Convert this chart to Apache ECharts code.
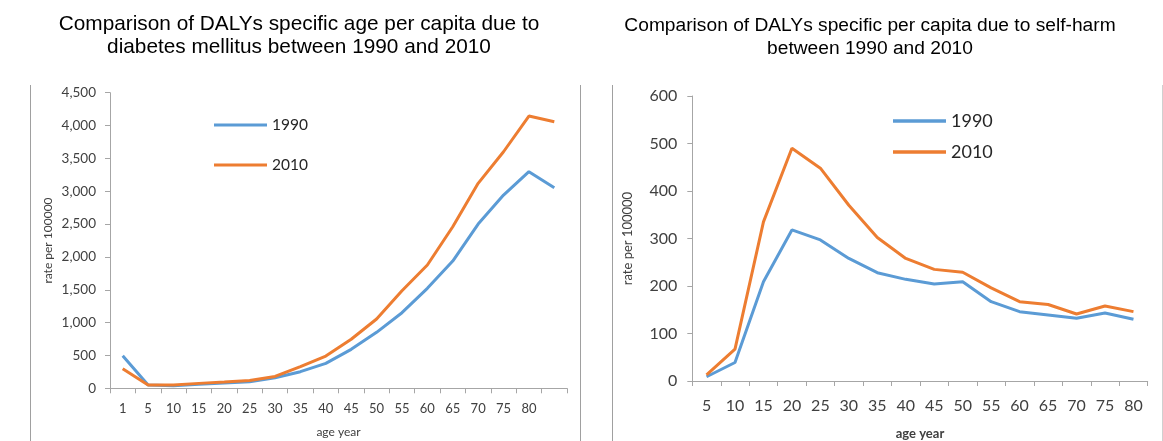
<!DOCTYPE html>
<html>
<head>
<meta charset="utf-8">
<script src="https://cdn.jsdelivr.net/npm/echarts@6/dist/echarts.min.js"></script>
<style>
  html, body { margin: 0; padding: 0; background: #fff; }
  #chart { width: 1163px; height: 441px; }
</style>
</head>
<body>
<div id="chart"></div>
<script>
// diabetes mellitus, rate per 100000 (last category has no label)
const diabetesAges = ['1', '5', '10', '15', '20', '25', '30', '35', '40', '45', '50', '55', '60', '65', '70', '75', '80', '']
const diabetes1990 = [495, 50, 40, 60, 80, 100, 160, 253, 380, 593, 852, 1151, 1522, 1937, 2500, 2942, 3297, 3053]
const diabetes2010 = [299, 50, 50, 75, 95, 120, 180, 330, 490, 746, 1055, 1486, 1877, 2460, 3120, 3601, 4144, 4058]

// self-harm, rate per 100000
const selfHarmAges = ['5', '10', '15', '20', '25', '30', '35', '40', '45', '50', '55', '60', '65', '70', '75', '80']
const selfHarm1990 = [9, 39, 209, 318, 297, 258, 228, 214, 204, 209, 167, 146, 139, 132, 143, 130]
const selfHarm2010 = [13, 67, 335, 490, 448, 370, 302, 258, 235, 229, 196, 167, 161, 141, 158, 146]

const blue = '#5B9BD5'
const orange = '#ED7D31'
const axisGrey = '#A6A6A6'
const textGrey = '#404040'
const labelFont = 'Lato'

const chart = echarts.init(document.getElementById('chart'))

function lineSeries(name, data, color, idx) {
  return {
    name: name,
    type: 'line',
    data: data,
    xAxisIndex: idx,
    yAxisIndex: idx,
    symbol: 'none',
    color: color,
    lineStyle: { width: 3, color: color },
    animation: false
  }
}

function catAxis(data, idx, fontSize, margin, nameGap, nameStyle) {
  return {
    type: 'category',
    gridIndex: idx,
    data: data,
    boundaryGap: true,
    axisLine: { lineStyle: { color: axisGrey } },
    axisTick: { show: true, length: 5, lineStyle: { color: axisGrey } },
    axisLabel: { interval: 0, color: textGrey, fontFamily: labelFont, fontSize: fontSize, margin: margin },
    name: 'age year',
    nameLocation: 'middle',
    nameGap: nameGap,
    nameTextStyle: nameStyle
  }
}

function valAxis(idx, max, interval, fontSize, margin, nameGap, nameSize, fmt) {
  return {
    type: 'value',
    gridIndex: idx,
    min: 0,
    max: max,
    interval: interval,
    splitLine: { show: false },
    axisLine: { show: true, lineStyle: { color: axisGrey } },
    axisTick: { show: true, length: 5, lineStyle: { color: axisGrey } },
    axisLabel: { color: textGrey, fontFamily: labelFont, fontSize: fontSize, margin: margin, formatter: fmt },
    name: 'rate per 100000',
    nameLocation: 'middle',
    nameGap: nameGap,
    nameTextStyle: { color: textGrey, fontFamily: labelFont, fontSize: nameSize }
  }
}

const option = {
  backgroundColor: '#fff',
  animation: false,
  title: [
    {
      text: 'Comparison of DALYs specific age per capita due to\ndiabetes mellitus between 1990 and 2010',
      left: 294, top: 8, textAlign: 'center',
      textStyle: { fontFamily: 'Liberation Sans', fontWeight: 'normal', fontSize: 20.8, color: '#000', lineHeight: 23 }
    },
    {
      text: 'Comparison of DALYs specific per capita due to self-harm\nbetween 1990 and 2010',
      left: 865, top: 9, textAlign: 'center',
      textStyle: { fontFamily: 'Liberation Sans', fontWeight: 'normal', fontSize: 19.2, color: '#000', lineHeight: 23 }
    }
  ],
  legend: [
    {
      orient: 'vertical', left: 209, top: 112,
      icon: 'rect', itemWidth: 53, itemHeight: 3, itemGap: 24, itemTextGap: 5,
      data: ['1990', '2010'],
      textStyle: { fontFamily: labelFont, fontSize: 15.5, lineHeight: 16, color: '#262626' }
    },
    {
      orient: 'vertical', left: 888, top: 106,
      icon: 'rect', itemWidth: 53, itemHeight: 3.5, itemGap: 11, itemTextGap: 5,
      data: ['1990', '2010'],
      textStyle: { fontFamily: labelFont, fontSize: 18, lineHeight: 20, color: '#262626' }
    }
  ],
  grid: [
    { left: 110, top: 92.7, width: 457, height: 295.6, outerBoundsMode: 'none' },
    { left: 692.3, top: 96, width: 455.4, height: 285, outerBoundsMode: 'none' }
  ],
  xAxis: [
    catAxis(diabetesAges, 0, 13, 14, 38, { color: textGrey, fontFamily: labelFont, fontSize: 12 }),
    catAxis(selfHarmAges, 1, 16, 17, 46, { color: textGrey, fontFamily: labelFont, fontSize: 13, fontWeight: 'bold' })
  ],
  yAxis: [
    valAxis(0, 4500, 500, 13.5, 14, 56, 12, v => v.toLocaleString('en-US')),
    valAxis(1, 600, 100, 16, 15, 58, 13, v => v)
  ],
  series: [
    lineSeries('1990', diabetes1990, blue, 0),
    lineSeries('2010', diabetes2010, orange, 0),
    lineSeries('1990', selfHarm1990, blue, 1),
    lineSeries('2010', selfHarm2010, orange, 1)
  ],
  graphic: [
    { type: 'line', shape: { x1: 30.5, y1: 85, x2: 30.5, y2: 441 }, style: { stroke: '#A0A0A0', lineWidth: 1 } },
    { type: 'line', shape: { x1: 580.5, y1: 85, x2: 580.5, y2: 441 }, style: { stroke: '#A0A0A0', lineWidth: 1 } },
    { type: 'line', shape: { x1: 612.5, y1: 85, x2: 612.5, y2: 441 }, style: { stroke: '#A0A0A0', lineWidth: 1 } },
    { type: 'line', shape: { x1: 1162.5, y1: 85, x2: 1162.5, y2: 441 }, style: { stroke: '#D0D0D0', lineWidth: 1 } }
  ]
}

chart.setOption(option)
</script>
</body>
</html>
